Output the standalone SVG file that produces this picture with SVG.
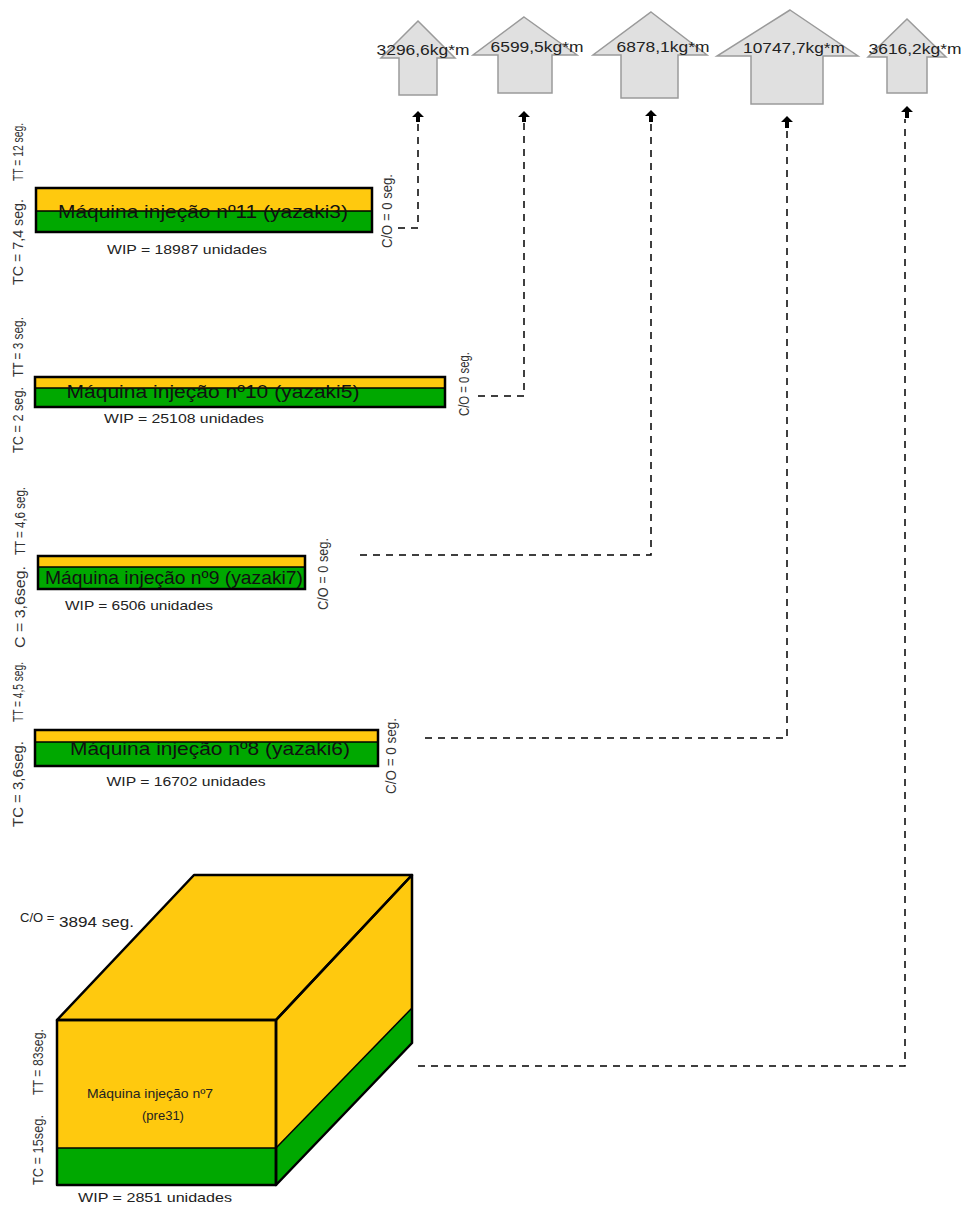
<svg xmlns="http://www.w3.org/2000/svg" width="963" height="1205" viewBox="0 0 963 1205">
<style>
.arr{fill:#e0e0e0;stroke:#9a9a9a;stroke-width:1.5}
.kg{font-family:"Liberation Sans",Arial,sans-serif;font-size:15px;fill:#222;text-anchor:middle}
.y{fill:#ffc90e}
.g{fill:#00a800}
.bx{fill:none;stroke:#000;stroke-width:2.5}
.mt{font-family:"Liberation Sans",Arial,sans-serif;font-size:19px;fill:#111;text-anchor:middle}
.wip{font-family:"Liberation Sans",Arial,sans-serif;font-size:13px;fill:#222;text-anchor:middle}
.rot{font-family:"Liberation Sans",Arial,sans-serif;font-size:14px;fill:#333;text-anchor:middle}
.dash{fill:none;stroke:#000;stroke-width:1.5;stroke-dasharray:7 6}
.head{fill:#000}
</style>
<g id="arrow1">
<polygon class="arr" points="418,21 455,58 437,58 437,95 399,95 399,58 381,58"/>
<text class="kg" x="423" y="55" textLength="93" lengthAdjust="spacingAndGlyphs">3296,6kg*m</text>
</g>
<g id="arrow2">
<polygon class="arr" points="524,17 577,55 552,55 552,93 498,93 498,55 473,55"/>
<text class="kg" x="537" y="52" textLength="93" lengthAdjust="spacingAndGlyphs">6599,5kg*m</text>
</g>
<g id="arrow3">
<polygon class="arr" points="651,12 707,55 678,55 678,98 621,98 621,55 593,55"/>
<text class="kg" x="663" y="52" textLength="93" lengthAdjust="spacingAndGlyphs">6878,1kg*m</text>
</g>
<g id="arrow4">
<polygon class="arr" points="790,10 858,56 823,56 823,104 751,104 751,56 717,56"/>
<text class="kg" x="794" y="53" textLength="102" lengthAdjust="spacingAndGlyphs">10747,7kg*m</text>
</g>
<g id="arrow5">
<polygon class="arr" points="907,19 946,57 927,57 927,93 887,93 887,57 868,57"/>
<text class="kg" x="915" y="54" textLength="93" lengthAdjust="spacingAndGlyphs">3616,2kg*m</text>
</g>
<g id="connectors">
<path class="dash" d="M398,228 H418 V123"/>
<path class="dash" d="M478,396 H524 V123"/>
<path class="dash" d="M360,555 H651 V123"/>
<path class="dash" d="M425,738 H787 V128"/>
<path class="dash" d="M418,1066 H905 V119"/>
<polygon class="head" points="418,111 424,117 420,117 420,122 416,122 416,117 412,117"/>
<polygon class="head" points="524,111 530,117 526,117 526,122 522,122 522,117 518,117"/>
<polygon class="head" points="651,110 657,116 653,116 653,122 649,122 649,116 645,116"/>
<polygon class="head" points="787,116 793,122 789,122 789,128 785,128 785,122 781,122"/>
<polygon class="head" points="907,106 913,112 909,112 909,118 905,118 905,112 901,112"/>
</g>
<g id="machine11">
<rect class="y" x="36" y="188" width="336" height="23"/>
<rect class="g" x="36" y="211" width="336" height="21"/>
<line x1="36" y1="211" x2="372" y2="211" stroke="#000" stroke-width="1.5"/>
<rect class="bx" x="36" y="188" width="336" height="44"/>
<text class="mt" x="203" y="218" textLength="290" lengthAdjust="spacingAndGlyphs">Máquina injeção nº11 (yazaki3)</text>
<text class="wip" x="187" y="254" textLength="160" lengthAdjust="spacingAndGlyphs">WIP = 18987 unidades</text>
<text class="rot" transform="rotate(-90 23 242)" x="23" y="242" textLength="86" lengthAdjust="spacingAndGlyphs">TC = 7,4 seg.</text>
<text class="rot" transform="rotate(-90 23 152)" x="23" y="152" textLength="58" lengthAdjust="spacingAndGlyphs">TT = 12 seg.</text>
<text class="rot" transform="rotate(-90 392 211)" x="392" y="211" textLength="74" lengthAdjust="spacingAndGlyphs">C/O = 0 seg.</text>
</g>
<g id="machine10">
<rect class="y" x="35" y="377" width="410" height="11"/>
<rect class="g" x="35" y="388" width="410" height="19"/>
<line x1="35" y1="388" x2="445" y2="388" stroke="#000" stroke-width="1.5"/>
<rect class="bx" x="35" y="377" width="410" height="30"/>
<text class="mt" x="213" y="398" textLength="293" lengthAdjust="spacingAndGlyphs">Máquina injeção nº10 (yazaki5)</text>
<text class="wip" x="184" y="423" textLength="160" lengthAdjust="spacingAndGlyphs">WIP = 25108 unidades</text>
<text class="rot" transform="rotate(-90 23 420)" x="23" y="420" textLength="66" lengthAdjust="spacingAndGlyphs">TC = 2 seg.</text>
<text class="rot" transform="rotate(-90 23 347)" x="23" y="347" textLength="60" lengthAdjust="spacingAndGlyphs">TT = 3 seg.</text>
<text class="rot" transform="rotate(-90 469 384)" x="469" y="384" textLength="64" lengthAdjust="spacingAndGlyphs">C/O = 0 seg.</text>
</g>
<g id="machine9">
<rect class="y" x="38" y="556" width="267" height="11"/>
<rect class="g" x="38" y="567" width="267" height="22"/>
<line x1="38" y1="567" x2="305" y2="567" stroke="#000" stroke-width="1.5"/>
<rect class="bx" x="38" y="556" width="267" height="33"/>
<text class="mt" x="174" y="584" textLength="258" lengthAdjust="spacingAndGlyphs">Máquina injeção nº9 (yazaki7)</text>
<text class="wip" x="139" y="610" textLength="148" lengthAdjust="spacingAndGlyphs">WIP = 6506 unidades</text>
<text class="rot" transform="rotate(-90 25 607)" x="25" y="607" textLength="82" lengthAdjust="spacingAndGlyphs">C = 3,6seg.</text>
<text class="rot" transform="rotate(-90 25 521)" x="25" y="521" textLength="68" lengthAdjust="spacingAndGlyphs">TT = 4,6 seg.</text>
<text class="rot" transform="rotate(-90 328 574)" x="328" y="574" textLength="72" lengthAdjust="spacingAndGlyphs">C/O = 0 seg.</text>
</g>
<g id="machine8">
<rect class="y" x="35" y="730" width="343" height="12"/>
<rect class="g" x="35" y="742" width="343" height="24"/>
<line x1="35" y1="742" x2="378" y2="742" stroke="#000" stroke-width="1.5"/>
<rect class="bx" x="35" y="730" width="343" height="36"/>
<text class="mt" x="210" y="755" textLength="280" lengthAdjust="spacingAndGlyphs">Máquina injeção nº8 (yazaki6)</text>
<text class="wip" x="186" y="786" textLength="159" lengthAdjust="spacingAndGlyphs">WIP = 16702 unidades</text>
<text class="rot" transform="rotate(-90 23 784)" x="23" y="784" textLength="86" lengthAdjust="spacingAndGlyphs">TC = 3,6seg.</text>
<text class="rot" transform="rotate(-90 23 692)" x="23" y="692" textLength="60" lengthAdjust="spacingAndGlyphs">TT = 4,5 seg.</text>
<text class="rot" transform="rotate(-90 396 756)" x="396" y="756" textLength="76" lengthAdjust="spacingAndGlyphs">C/O = 0 seg.</text>
</g>
<g id="machine7">
<polygon class="y" points="57,1020 194,875 412,875 276,1020"/>
<polygon class="y" points="276,1020 412,875 412,1008 276,1148"/>
<polygon class="g" points="276,1148 412,1008 412,1043 276,1185"/>
<rect class="y" x="57" y="1020" width="219" height="128"/>
<rect class="g" x="57" y="1148" width="219" height="37"/>
<g fill="none" stroke="#000" stroke-width="2.5" stroke-linejoin="round">
<polygon points="57,1020 194,875 412,875 276,1020"/>
<polygon points="276,1020 412,875 412,1043 276,1185"/>
<rect x="57" y="1020" width="219" height="165"/>
<line x1="57" y1="1148" x2="276" y2="1148" stroke-width="1.5"/>
<line x1="276" y1="1148" x2="412" y2="1008" stroke-width="1.5"/>
</g>
<text font-family="Liberation Sans,Arial,sans-serif" font-size="13" fill="#222" x="20" y="922">C/O =</text>
<text font-family="Liberation Sans,Arial,sans-serif" font-size="15" fill="#222" x="59" y="927" textLength="75" lengthAdjust="spacingAndGlyphs">3894 seg.</text>
<text class="wip" x="150" y="1098" textLength="126" lengthAdjust="spacingAndGlyphs" fill="#333">Máquina injeção nº7</text>
<text class="wip" x="163" y="1120" fill="#333">(pre31)</text>
<text class="wip" x="155" y="1202" textLength="154" lengthAdjust="spacingAndGlyphs">WIP = 2851 unidades</text>
<text class="rot" transform="rotate(-90 43 1150)" x="43" y="1150" textLength="70" lengthAdjust="spacingAndGlyphs">TC = 15seg.</text>
<text class="rot" transform="rotate(-90 43 1062)" x="43" y="1062" textLength="66" lengthAdjust="spacingAndGlyphs">TT = 83seg.</text>
</g>
</svg>
